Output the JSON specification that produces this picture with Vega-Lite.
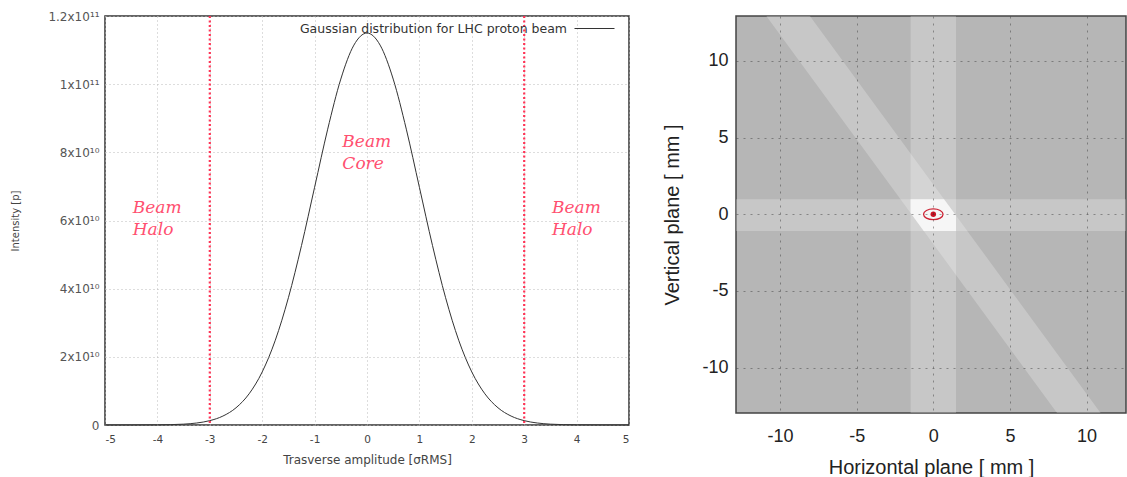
{
  "$schema": "https://vega.github.io/schema/vega-lite/v6.json",
  "background": "white",
  "padding": {"left": 10, "top": 8, "right": 0, "bottom": 0},
  "spacing": 30,
  "config": {
    "font": "DejaVu Sans",
    "axis": {"titleFontWeight": "normal"}
  },
  "hconcat": [
    {
      "width": 524,
      "height": 409,
      "view": {"stroke": "#333", "strokeWidth": 1.5, "fill": "white"},
      "layer": [
        {
          "data": {"values": [
            {"x": -5, "y": 0, "series": "Gaussian distribution for LHC proton beam"},
            {"x": -4.5, "y": 4600000, "series": "Gaussian distribution for LHC proton beam"},
            {"x": -4, "y": 38500000, "series": "Gaussian distribution for LHC proton beam"},
            {"x": -3.75, "y": 102000000, "series": "Gaussian distribution for LHC proton beam"},
            {"x": -3.5, "y": 252000000, "series": "Gaussian distribution for LHC proton beam"},
            {"x": -3.25, "y": 584000000, "series": "Gaussian distribution for LHC proton beam"},
            {"x": -3, "y": 1277000000, "series": "Gaussian distribution for LHC proton beam"},
            {"x": -2.75, "y": 2620000000, "series": "Gaussian distribution for LHC proton beam"},
            {"x": -2.5, "y": 5050000000, "series": "Gaussian distribution for LHC proton beam"},
            {"x": -2.25, "y": 9150000000, "series": "Gaussian distribution for LHC proton beam"},
            {"x": -2, "y": 15560000000, "series": "Gaussian distribution for LHC proton beam"},
            {"x": -1.75, "y": 24870000000, "series": "Gaussian distribution for LHC proton beam"},
            {"x": -1.5, "y": 37340000000, "series": "Gaussian distribution for LHC proton beam"},
            {"x": -1.25, "y": 52650000000, "series": "Gaussian distribution for LHC proton beam"},
            {"x": -1, "y": 69750000000, "series": "Gaussian distribution for LHC proton beam"},
            {"x": -0.75, "y": 86800000000, "series": "Gaussian distribution for LHC proton beam"},
            {"x": -0.5, "y": 101490000000, "series": "Gaussian distribution for LHC proton beam"},
            {"x": -0.25, "y": 111460000000, "series": "Gaussian distribution for LHC proton beam"},
            {"x": 0, "y": 115000000000, "series": "Gaussian distribution for LHC proton beam"},
            {"x": 0.25, "y": 111460000000, "series": "Gaussian distribution for LHC proton beam"},
            {"x": 0.5, "y": 101490000000, "series": "Gaussian distribution for LHC proton beam"},
            {"x": 0.75, "y": 86800000000, "series": "Gaussian distribution for LHC proton beam"},
            {"x": 1, "y": 69750000000, "series": "Gaussian distribution for LHC proton beam"},
            {"x": 1.25, "y": 52650000000, "series": "Gaussian distribution for LHC proton beam"},
            {"x": 1.5, "y": 37340000000, "series": "Gaussian distribution for LHC proton beam"},
            {"x": 1.75, "y": 24870000000, "series": "Gaussian distribution for LHC proton beam"},
            {"x": 2, "y": 15560000000, "series": "Gaussian distribution for LHC proton beam"},
            {"x": 2.25, "y": 9150000000, "series": "Gaussian distribution for LHC proton beam"},
            {"x": 2.5, "y": 5050000000, "series": "Gaussian distribution for LHC proton beam"},
            {"x": 2.75, "y": 2620000000, "series": "Gaussian distribution for LHC proton beam"},
            {"x": 3, "y": 1277000000, "series": "Gaussian distribution for LHC proton beam"},
            {"x": 3.25, "y": 584000000, "series": "Gaussian distribution for LHC proton beam"},
            {"x": 3.5, "y": 252000000, "series": "Gaussian distribution for LHC proton beam"},
            {"x": 3.75, "y": 102000000, "series": "Gaussian distribution for LHC proton beam"},
            {"x": 4, "y": 38500000, "series": "Gaussian distribution for LHC proton beam"},
            {"x": 4.5, "y": 4600000, "series": "Gaussian distribution for LHC proton beam"},
            {"x": 5, "y": 0, "series": "Gaussian distribution for LHC proton beam"}
          ]},
          "mark": {"type": "line", "interpolate": "monotone", "strokeWidth": 1},
          "encoding": {
            "x": {
              "field": "x", "type": "quantitative",
              "scale": {"domain": [-5, 5], "nice": false, "zero": false},
              "axis": {
                "values": [-5, -4, -3, -2, -1, 0, 1, 2, 3, 4, 5],
                "labelExpr": "'' + datum.value",
                "grid": true, "gridDash": [1, 3], "gridColor": "#bbbbbb",
                "domain": false, "ticks": false,
                "labelFont": "DejaVu Sans", "labelFontSize": 10.5, "labelColor": "#444",
                "labelPadding": 9,
                "title": "Trasverse amplitude [σRMS]",
                "titleFont": "DejaVu Sans", "titleFontSize": 12, "titleColor": "#444",
                "titlePadding": 10
              }
            },
            "y": {
              "field": "y", "type": "quantitative",
              "scale": {"domain": [0, 120000000000], "nice": false},
              "axis": {
                "values": [0, 20000000000, 40000000000, 60000000000, 80000000000, 100000000000, 120000000000],
                "labelExpr": "datum.value == 0 ? '0' : (datum.value < 90000000000 ? format(datum.value / 10000000000, 'd') + 'x10¹⁰' : format(datum.value / 100000000000, '~g') + 'x10¹¹')",
                "grid": true, "gridDash": [1, 3], "gridColor": "#bbbbbb",
                "domain": false, "ticks": false,
                "labelFont": "DejaVu Sans", "labelFontSize": 12, "labelColor": "#555",
                "labelPadding": 6,
                "title": "Intensity [p]",
                "titleFont": "DejaVu Sans", "titleFontSize": 10, "titleColor": "#444",
                "titlePadding": 27
              }
            },
            "color": {
              "field": "series", "type": "nominal",
              "scale": {"range": ["#333333"]},
              "legend": {
                "title": null,
                "orient": "none",
                "legendX": 469,
                "legendY": -8,
                "symbolType": "stroke",
                "symbolSize": 1600,
                "symbolStrokeWidth": 1,
                "labelAlign": "right",
                "labelOffset": -48,
                "labelFont": "DejaVu Sans",
                "labelFontSize": 12.5,
                "labelColor": "#333",
                "labelLimit": 400
              }
            }
          }
        },
        {
          "data": {"values": [{"x": -3}, {"x": 3}]},
          "mark": {"type": "rule", "color": "#ff3355", "strokeWidth": 2.2, "strokeDash": [2, 2.5]},
          "encoding": {"x": {"field": "x", "type": "quantitative"}}
        },
        {
          "data": {"values": [
            {"x": -4.47, "y": 66000000000, "label": "Beam\nHalo"},
            {"x": -0.47, "y": 85500000000, "label": "Beam\nCore"},
            {"x": 3.53, "y": 66000000000, "label": "Beam\nHalo"}
          ]},
          "mark": {"type": "text", "align": "left", "baseline": "top", "font": "DejaVu Serif", "fontStyle": "italic", "fontSize": 17, "color": "#ff5070", "lineBreak": "\n", "lineHeight": 22},
          "encoding": {
            "x": {"field": "x", "type": "quantitative"},
            "y": {"field": "y", "type": "quantitative"},
            "text": {"field": "label"}
          }
        }
      ]
    },
    {
      "width": 390,
      "height": 397,
      "view": {"fill": "#b6b6b6", "stroke": "#444", "strokeWidth": 1.5},
      "layer": [
        {
          "data": {"values": [
            {"x": -1.48, "x2": 1.48, "y": -12.96, "y2": 12.93},
            {"x": -12.87, "x2": 12.57, "y": -1.09, "y2": 0.98}
          ]},
          "mark": {"type": "rect", "color": "white", "opacity": 0.24},
          "encoding": {
            "x": {
              "field": "x", "type": "quantitative",
              "scale": {"domain": [-12.87, 12.57], "nice": false, "zero": false},
              "axis": {
                "values": [-10, -5, 0, 5, 10],
                "labelExpr": "'' + datum.value",
                "grid": true, "gridDash": [2, 5], "gridColor": "#333", "gridOpacity": 0.45,
                "zindex": 1, "domain": false, "ticks": false,
                "labelFont": "Liberation Sans", "labelFontSize": 18, "labelColor": "#222",
                "labelPadding": 14,
                "title": "Horizontal plane [ mm ]",
                "titleFont": "Liberation Sans", "titleFontSize": 20, "titleColor": "#222",
                "titlePadding": 12
              }
            },
            "x2": {"field": "x2"},
            "y": {
              "field": "y", "type": "quantitative",
              "scale": {"domain": [-12.96, 12.93], "nice": false, "zero": false},
              "axis": {
                "values": [-10, -5, 0, 5, 10],
                "labelExpr": "'' + datum.value",
                "grid": true, "gridDash": [2, 5], "gridColor": "#333", "gridOpacity": 0.45,
                "zindex": 1, "domain": false, "ticks": false,
                "labelFont": "Liberation Sans", "labelFontSize": 18, "labelColor": "#222",
                "labelPadding": 8,
                "title": "Vertical plane [ mm ]",
                "titleFont": "Liberation Sans", "titleFontSize": 20, "titleColor": "#222",
                "titlePadding": 19
              }
            },
            "y2": {"field": "y2"}
          }
        },
        {
          "data": {"values": [
            {"x": -12.87, "lo": 15.63, "hi": 19.51},
            {"x": 12.57, "lo": -19.10, "hi": -15.22}
          ]},
          "mark": {"type": "area", "color": "white", "opacity": 0.24, "clip": true},
          "encoding": {
            "x": {"field": "x", "type": "quantitative"},
            "y": {"field": "lo", "type": "quantitative"},
            "y2": {"field": "hi"}
          }
        },
        {
          "data": {"values": [
            {"x": -1.48, "lo": 0.08, "hi": 0.98},
            {"x": -0.62, "lo": -1.09, "hi": 0.98},
            {"x": 0.70, "lo": -1.09, "hi": 0.98},
            {"x": 1.48, "lo": -1.09, "hi": -0.08}
          ]},
          "mark": {"type": "area", "color": "#f6f6f6", "opacity": 1},
          "encoding": {
            "x": {"field": "x", "type": "quantitative"},
            "y": {"field": "lo", "type": "quantitative"},
            "y2": {"field": "hi"}
          }
        },
        {
          "data": {"values": [{"x": 0, "y": 0}]},
          "mark": {"type": "point", "shape": "M-1,0A1,0.55,0,1,1,1,0A1,0.55,0,1,1,-1,0Z", "size": 380, "filled": false, "stroke": "#cc2233", "strokeWidth": 1.3, "opacity": 1},
          "encoding": {
            "x": {"field": "x", "type": "quantitative"},
            "y": {"field": "y", "type": "quantitative"}
          }
        },
        {
          "data": {"values": [{"x": 0, "y": 0}]},
          "mark": {"type": "point", "shape": "circle", "size": 30, "filled": true, "color": "#cc1122", "opacity": 1},
          "encoding": {
            "x": {"field": "x", "type": "quantitative"},
            "y": {"field": "y", "type": "quantitative"}
          }
        }
      ]
    }
  ]
}
